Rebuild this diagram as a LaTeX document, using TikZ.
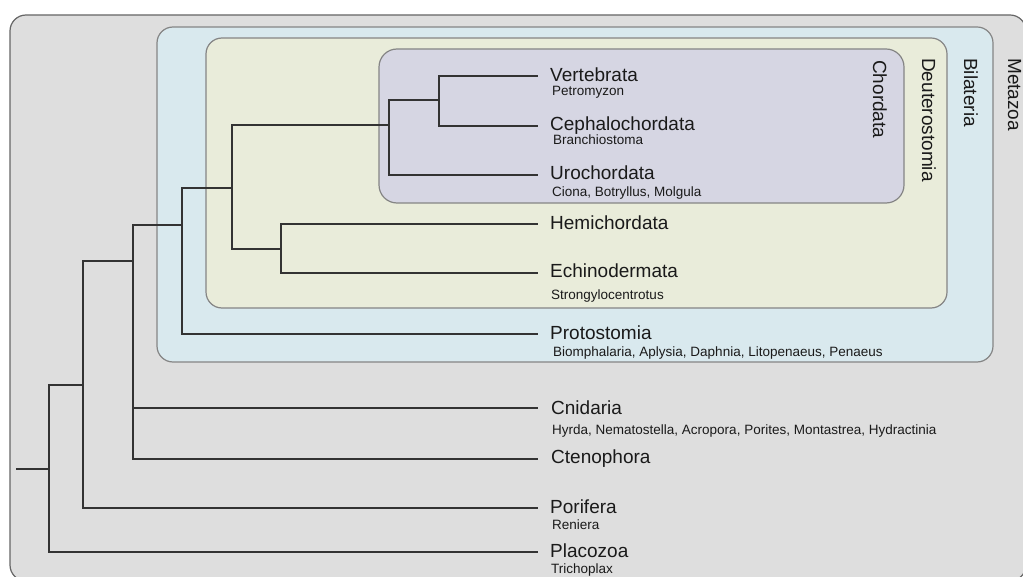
\documentclass[tikz,border=0pt]{standalone}
\usepackage{fontspec}
\setmainfont{Liberation Sans}
\definecolor{metafill}{HTML}{DEDEDE}
\definecolor{bilafill}{HTML}{D9E9EE}
\definecolor{deutfill}{HTML}{E9ECDA}
\definecolor{chorfill}{HTML}{D6D6E3}
\definecolor{boxline}{HTML}{858585}
\definecolor{treeline}{HTML}{333333}
\definecolor{txt}{HTML}{1A1A1A}
\tikzset{
  cladebox/.style={rounded corners=16pt, draw=boxline, line width=1.2pt},
  big/.style={font=\fontsize{19}{22}\selectfont, text=txt, inner sep=0pt, anchor=base west},
  small/.style={font=\fontsize{13.5}{16}\selectfont, text=txt, inner sep=0pt, anchor=base west},
  clade/.style={font=\fontsize{19}{22}\selectfont, text=txt, inner sep=0pt, anchor=base west, rotate=-90},
  branch/.style={draw=treeline, line width=1.4pt},
}
\begin{document}
\begin{tikzpicture}[x=1pt,y=-1pt]
\useasboundingbox (0,0) rectangle (1023,577);
\clip (0,0) rectangle (1023,577);
\fill[white] (0,0) rectangle (1023,577);
% clade boxes
\path[cladebox, fill=metafill, draw=black!60] (10,15) rectangle (1026,581);
\path[cladebox, fill=bilafill] (157,27) rectangle (993,362);
\path[cladebox, fill=deutfill] (206,38) rectangle (947,308);
\path[cladebox, rounded corners=18pt, fill=chorfill] (379,49) rectangle (904,203);
% clade names
\node[clade] (cChor) at (873,60) {Chordata};
\node[clade] (cDeut) at (922,58) {Deuterostomia};
\node[clade] (cBila) at (964,58) {Bilateria};
\node[clade] (cMeta) at (1008,58) {Metazoa};
% internal nodes
\coordinate (root) at (16,469);
\coordinate (nA) at (49,469);
\coordinate (nB) at (83,385);
\coordinate (nC) at (133,261);
\coordinate (nD) at (182,225);
\coordinate (nE) at (232,188);
\coordinate (nF) at (389,125);
\coordinate (nG) at (439,100);
\coordinate (nH) at (281,249);
% tips
\coordinate (tVert) at (538,76);
\coordinate (tCeph) at (538,126);
\coordinate (tUro) at (538,175);
\coordinate (tHemi) at (538,224);
\coordinate (tEchi) at (538,273);
\coordinate (tProt) at (538,334);
\coordinate (tCnid) at (538,408);
\coordinate (tCten) at (538,459);
\coordinate (tPori) at (538,508);
\coordinate (tPlac) at (538,552);
% branches
\draw[branch] (root) -- (nA);
\draw[branch] (nA) |- (nB);
\draw[branch] (nA) |- (tPlac);
\draw[branch] (nB) |- (nC);
\draw[branch] (nB) |- (tPori);
\draw[branch] (nC) |- (nD);
\draw[branch] (nC) |- (tCnid);
\draw[branch] (nC) |- (tCten);
\draw[branch] (nD) |- (nE);
\draw[branch] (nD) |- (tProt);
\draw[branch] (nE) |- (nF);
\draw[branch] (nE) |- (nH);
\draw[branch] (nF) |- (nG);
\draw[branch] (nF) |- (tUro);
\draw[branch] (nG) |- (tVert);
\draw[branch] (nG) |- (tCeph);
\draw[branch] (nH) |- (tHemi);
\draw[branch] (nH) |- (tEchi);
% labels
\node[big] (lVert) at (550,82) {Vertebrata};
\node[small] (sVert) at (552,96) {Petromyzon};
\node[big] (lCeph) at (550,131) {Cephalochordata};
\node[small] (sCeph) at (553,145) {Branchiostoma};
\node[big] (lUro) at (550,180) {Urochordata};
\node[small] (sUro) at (552,197) {Ciona, Botryllus, Molgula};
\node[big] (lHemi) at (550,230) {Hemichordata};
\node[big] (lEchi) at (550,278) {Echinodermata};
\node[small] (sEchi) at (551,300) {Strongylocentrotus};
\node[big] (lProt) at (550,340) {Protostomia};
\node[small] (sProt) at (553,356) {Biomphalaria, Aplysia, Daphnia, Litopenaeus, Penaeus};
\node[big] (lCnid) at (551,414) {Cnidaria};
\node[small] (sCnid) at (552,434) {Hyrda, Nematostella, Acropora, Porites, Montastrea, Hydractinia};
\node[big] (lCten) at (551,463) {Ctenophora};
\node[big] (lPori) at (550,513) {Porifera};
\node[small] (sPori) at (552,529) {Reniera};
\node[big] (lPlac) at (550,557) {Placozoa};
\node[small] (sPlac) at (551,573) {Trichoplax};
\end{tikzpicture}
\end{document}
